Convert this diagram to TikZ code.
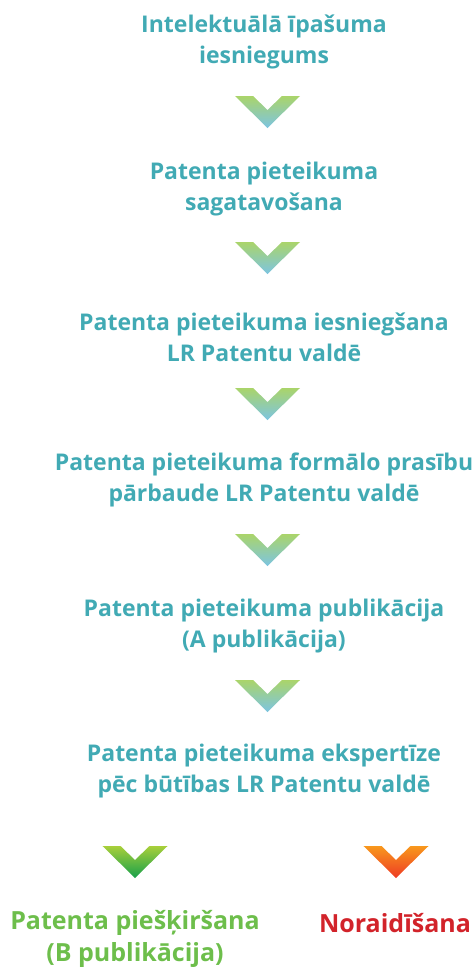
\documentclass[tikz,border=0pt]{standalone}
\usepackage{fontspec}
\setmainfont{Open Sans}

\definecolor{stageteal}{HTML}{41AAB4}
\definecolor{grantgreen}{HTML}{6DBE4B}
\definecolor{rejectred}{HTML}{D2232A}
\definecolor{chevtop}{HTML}{AAD46A}
\definecolor{chevbot}{HTML}{7CC4E2}
\definecolor{greentop}{HTML}{A8CF3A}
\definecolor{greenbot}{HTML}{17A04B}
\definecolor{orangetop}{HTML}{F8981D}
\definecolor{orangebot}{HTML}{EE3B24}

\tikzset{
  stage/.style={align=center, inner sep=0pt, text=stageteal,
    font=\bfseries\fontsize{23}{31}\selectfont},
  outcome/.style={stage, font=\bfseries\fontsize{25}{32}\selectfont},
}

% chevron: #1 = top middle point, #2/#3 = top/bottom colour
\newcommand{\chev}[3]{%
  \shade[top color=#2, bottom color=#3] (#1) ++(-32.5,0) -- ++(18,0) -- ++(14.5,14)
    -- ++(14.5,-14) -- ++(18,0) -- ++(-32.5,32) -- cycle;}

\begin{document}
\begin{tikzpicture}[x=1pt,y=-1pt]
      \useasboundingbox (0,0) rectangle (475,970);

      \node at (264,42)  [stage] (submit)  {Intelektuālā īpašuma\\iesniegums};
      \node at (264,189) [stage] (prepare) {Patenta pieteikuma\\sagatavošana};
      \node at (264,337) [stage] (file)    {Patenta pieteikuma iesniegšana\\LR Patentu valdē};
      \node at (264,480) [stage] (formal)  {Patenta pieteikuma formālo prasību\\pārbaude LR Patentu valdē};
      \node at (264,626) [stage] (publish) {Patenta pieteikuma publikācija\\(A publikācija)};
      \node at (264,771) [stage] (examine) {Patenta pieteikuma ekspertīze\\pēc būtības LR Patentu valdē};

      \node at (135,939) [outcome, text=grantgreen] (grant)  {Patenta piešķiršana\\(B publikācija)};
      \node at (395,923) [outcome, text=rejectred]  (reject) {Noraidīšana};

      \coordinate (c1) at (267.5,96);
      \coordinate (c2) at (267.5,242);
      \coordinate (c3) at (267.5,388);
      \coordinate (c4) at (267.5,534);
      \coordinate (c5) at (267.5,680);
      \coordinate (c6) at (135,846);
      \coordinate (c7) at (396,846);

      \foreach \c in {c1,c2,c3,c4,c5}
        \chev{\c}{chevtop}{chevbot};
      \chev{c6}{greentop}{greenbot}
      \chev{c7}{orangetop}{orangebot}
\end{tikzpicture}
\end{document}
